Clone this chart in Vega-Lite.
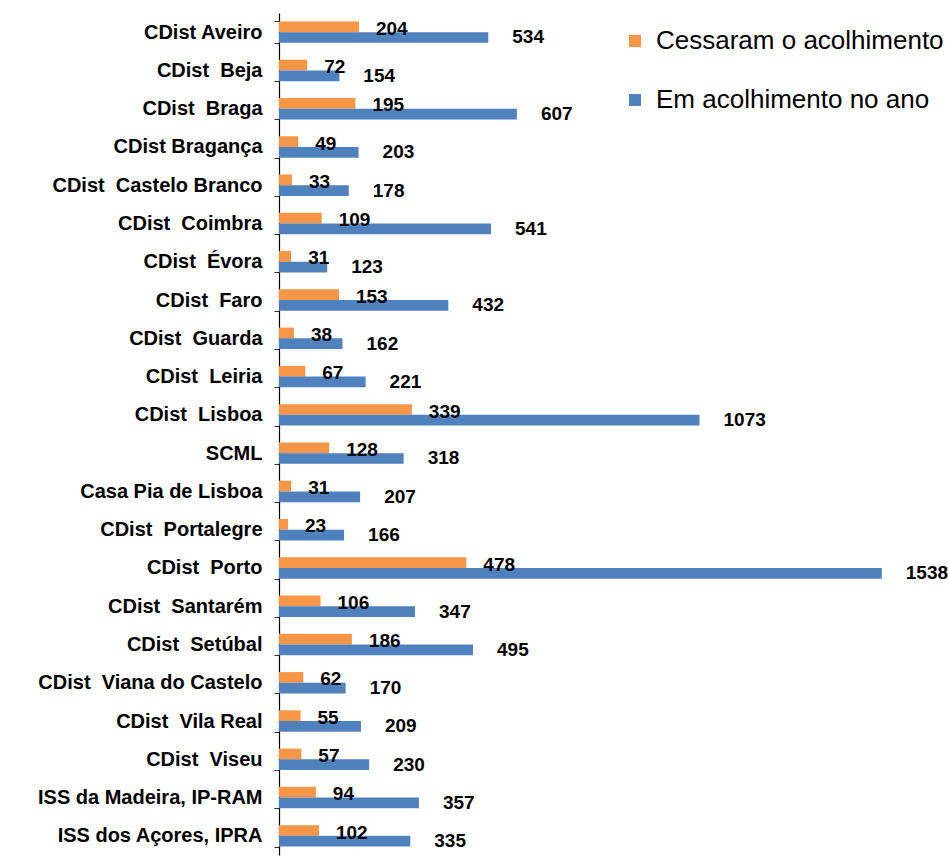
{
  "$schema": "https://vega.github.io/schema/vega-lite/v6.json",
  "autosize": "none",
  "width": 660,
  "height": 842,
  "padding": {"left": 279, "top": 13, "right": 10, "bottom": 3},
  "background": "white",
  "config": {"view": {"stroke": null}, "font": "Liberation Sans"},
  "data": {
    "values": [
      {"cat": "CDist Aveiro", "serie": "Cessaram o acolhimento", "v": 204},
      {"cat": "CDist Aveiro", "serie": "Em acolhimento no ano", "v": 534},
      {"cat": "CDist \u00a0Beja", "serie": "Cessaram o acolhimento", "v": 72},
      {"cat": "CDist \u00a0Beja", "serie": "Em acolhimento no ano", "v": 154},
      {"cat": "CDist \u00a0Braga\u00a0", "serie": "Cessaram o acolhimento", "v": 195},
      {"cat": "CDist \u00a0Braga\u00a0", "serie": "Em acolhimento no ano", "v": 607},
      {"cat": "CDist Bragança", "serie": "Cessaram o acolhimento", "v": 49},
      {"cat": "CDist Bragança", "serie": "Em acolhimento no ano", "v": 203},
      {"cat": "CDist \u00a0Castelo Branco", "serie": "Cessaram o acolhimento", "v": 33},
      {"cat": "CDist \u00a0Castelo Branco", "serie": "Em acolhimento no ano", "v": 178},
      {"cat": "CDist \u00a0Coimbra", "serie": "Cessaram o acolhimento", "v": 109},
      {"cat": "CDist \u00a0Coimbra", "serie": "Em acolhimento no ano", "v": 541},
      {"cat": "CDist \u00a0Évora", "serie": "Cessaram o acolhimento", "v": 31},
      {"cat": "CDist \u00a0Évora", "serie": "Em acolhimento no ano", "v": 123},
      {"cat": "CDist \u00a0Faro", "serie": "Cessaram o acolhimento", "v": 153},
      {"cat": "CDist \u00a0Faro", "serie": "Em acolhimento no ano", "v": 432},
      {"cat": "CDist \u00a0Guarda", "serie": "Cessaram o acolhimento", "v": 38},
      {"cat": "CDist \u00a0Guarda", "serie": "Em acolhimento no ano", "v": 162},
      {"cat": "CDist \u00a0Leiria", "serie": "Cessaram o acolhimento", "v": 67},
      {"cat": "CDist \u00a0Leiria", "serie": "Em acolhimento no ano", "v": 221},
      {"cat": "CDist \u00a0Lisboa\u00a0", "serie": "Cessaram o acolhimento", "v": 339},
      {"cat": "CDist \u00a0Lisboa\u00a0", "serie": "Em acolhimento no ano", "v": 1073},
      {"cat": "SCML", "serie": "Cessaram o acolhimento", "v": 128},
      {"cat": "SCML", "serie": "Em acolhimento no ano", "v": 318},
      {"cat": "Casa Pia de Lisboa", "serie": "Cessaram o acolhimento", "v": 31},
      {"cat": "Casa Pia de Lisboa", "serie": "Em acolhimento no ano", "v": 207},
      {"cat": "CDist \u00a0Portalegre", "serie": "Cessaram o acolhimento", "v": 23},
      {"cat": "CDist \u00a0Portalegre", "serie": "Em acolhimento no ano", "v": 166},
      {"cat": "CDist \u00a0Porto", "serie": "Cessaram o acolhimento", "v": 478},
      {"cat": "CDist \u00a0Porto", "serie": "Em acolhimento no ano", "v": 1538},
      {"cat": "CDist \u00a0Santarém", "serie": "Cessaram o acolhimento", "v": 106},
      {"cat": "CDist \u00a0Santarém", "serie": "Em acolhimento no ano", "v": 347},
      {"cat": "CDist \u00a0Setúbal", "serie": "Cessaram o acolhimento", "v": 186},
      {"cat": "CDist \u00a0Setúbal", "serie": "Em acolhimento no ano", "v": 495},
      {"cat": "CDist \u00a0Viana do Castelo", "serie": "Cessaram o acolhimento", "v": 62},
      {"cat": "CDist \u00a0Viana do Castelo", "serie": "Em acolhimento no ano", "v": 170},
      {"cat": "CDist \u00a0Vila Real", "serie": "Cessaram o acolhimento", "v": 55},
      {"cat": "CDist \u00a0Vila Real", "serie": "Em acolhimento no ano", "v": 209},
      {"cat": "CDist \u00a0Viseu", "serie": "Cessaram o acolhimento", "v": 57},
      {"cat": "CDist \u00a0Viseu", "serie": "Em acolhimento no ano", "v": 230},
      {"cat": "ISS da Madeira, IP-RAM\u00a0", "serie": "Cessaram o acolhimento", "v": 94},
      {"cat": "ISS da Madeira, IP-RAM\u00a0", "serie": "Em acolhimento no ano", "v": 357},
      {"cat": "ISS dos Açores, IPRA", "serie": "Cessaram o acolhimento", "v": 102},
      {"cat": "ISS dos Açores, IPRA", "serie": "Em acolhimento no ano", "v": 335}
    ]
  },
  "encoding": {
    "y": {
      "field": "cat", "type": "nominal", "sort": null,
      "scale": {"paddingInner": 0.44, "paddingOuter": 0.22},
      "axis": {
        "title": null, "domainColor": "#000000", "domainWidth": 1.2,
        "tickBand": "extent", "tickSize": 5, "tickColor": "#333333",
        "labelFont": "Liberation Sans", "labelFontWeight": "bold", "labelFontSize": 20,
        "labelColor": "#000000", "labelPadding": 12, "labelLimit": 300
      }
    },
    "yOffset": {"field": "serie", "type": "nominal", "sort": ["Cessaram o acolhimento", "Em acolhimento no ano"], "scale": {"paddingInner": 0}},
    "x": {"field": "v", "type": "quantitative", "scale": {"domain": [0, 1684]}, "axis": null}
  },
  "layer": [
    {
      "mark": {"type": "bar"},
      "encoding": {
        "color": {
          "field": "serie", "type": "nominal",
          "scale": {"domain": ["Cessaram o acolhimento", "Em acolhimento no ano"], "range": ["#F79646", "#4F81BD"]},
          "legend": {
            "title": null, "orient": "none", "legendX": 343, "legendY": 15, "padding": 0,
            "symbolType": "square", "symbolSize": 144, "symbolStrokeWidth": 0,
            "labelFont": "Liberation Sans", "labelFontSize": 26, "labelColor": "#000000",
            "labelOffset": 8, "rowPadding": 33, "labelLimit": 400
          }
        }
      }
    },
    {
      "transform": [{"filter": "datum.serie == 'Cessaram o acolhimento'"}],
      "mark": {"type": "text", "align": "left", "baseline": "middle", "dx": 17, "dy": 2, "font": "Liberation Sans", "fontWeight": "bold", "fontSize": 19, "color": "#000000"},
      "encoding": {"text": {"field": "v", "type": "quantitative"}}
    },
    {
      "transform": [{"filter": "datum.serie == 'Em acolhimento no ano'"}],
      "mark": {"type": "text", "align": "left", "baseline": "middle", "dx": 24, "dy": 0, "font": "Liberation Sans", "fontWeight": "bold", "fontSize": 19, "color": "#000000"},
      "encoding": {"text": {"field": "v", "type": "quantitative"}}
    }
  ]
}
